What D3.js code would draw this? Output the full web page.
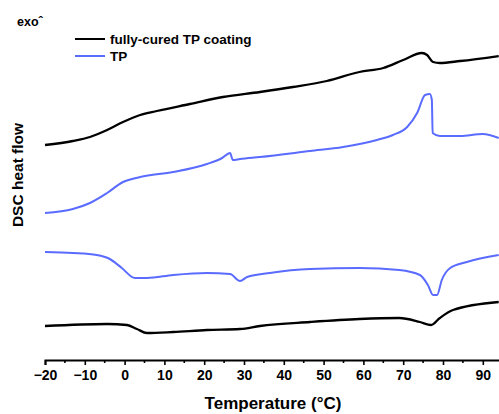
<!DOCTYPE html>
<html>
<head>
<meta charset="utf-8">
<script src="https://cdn.jsdelivr.net/npm/d3@7"></script>
<style>
  body { margin: 0; background: #fff; }
  svg { display: block; font-family: "Liberation Sans", Arial, sans-serif; }
</style>
</head>
<body>
<div id="chart"></div>
<script>
// data (heat flow in arbitrary units, curves already offset)
const curedHeatT = [-20, -13, -8.7, -4.4, -0.4, 3.9, 8.1, 16.4, 24.7, 34, 42.3, 50.8, 59, 65, 70, 74.7, 76, 77.5, 79.2, 84.3, 94];
const curedHeatV = [21.5, 21.9, 22.3, 23.0, 23.8, 24.5, 24.9, 25.6, 26.3, 26.8, 27.3, 27.9, 28.8, 29.2, 30.0, 30.7, 30.5, 29.8, 29.7, 29.9, 30.4];

const tpHeatT = [-20, -13, -8.7, -4.4, -0.4, 3.9, 12.2, 20.7, 24.5, 26.5, 27.2, 29, 34, 46.6, 54.9, 63.4, 67.4, 71, 73.5, 75.5, 76.7, 77.2, 77.4, 79.2, 84.3, 90, 94];
const tpHeatV = [14.7, 15.1, 15.7, 16.7, 17.8, 18.3, 18.8, 19.6, 20.2, 20.7, 20.0, 20.1, 20.3, 20.9, 21.3, 22.0, 22.5, 23.3, 24.7, 26.5, 26.6, 26.0, 22.7, 22.4, 22.4, 22.6, 22.2];

const tpCoolT = [-20, -13, -7, -3.7, -0.7, 2.6, 5.6, 12.2, 20.7, 26.5, 29, 30.8, 36.5, 46.6, 59, 69, 74.2, 76.2, 77.5, 78.5, 79.7, 81.8, 86, 94];
const tpCoolV = [10.8, 10.7, 10.5, 10.1, 9.2, 8.2, 8.2, 8.5, 8.7, 8.6, 7.9, 8.3, 8.7, 9.1, 9.2, 9.0, 8.5, 7.5, 6.5, 6.5, 8.0, 9.2, 9.8, 10.5];

const curedCoolT = [-20, -4.4, 0.6, 3.1, 5.6, 12.2, 20.7, 29, 34, 46.6, 59, 69, 74.2, 77, 79.2, 82.5, 94];
const curedCoolV = [3.4, 3.6, 3.5, 3.1, 2.7, 2.8, 3.0, 3.1, 3.4, 3.8, 4.1, 4.2, 3.8, 3.5, 4.2, 5.0, 5.8];

const xTicks = d3.range(-20, 91, 10);
const xMinor = d3.range(-15, 96, 10);
const legendNames = ["fully-cured TP coating", "TP"];
const colors = ["#000000", "#5a6bff"];

const W = 499, H = 414;
const svg = d3.select("#chart").append("svg").attr("width", W).attr("height", H);

const x = d3.scaleLinear().domain([-20, 100]).range([45, 45 + 120 * 3.98]);
const y = d3.scaleLinear().domain([0, 36]).range([360, 0]);

const zip = (ts, vs) => ts.map((t, i) => [t, vs[i]]);
const line = d3.line().x(d => x(d[0])).y(d => y(d[1])).curve(d3.curveMonotoneX);

const series = [
  { pts: zip(curedHeatT, curedHeatV), color: colors[0] },
  { pts: zip(tpHeatT, tpHeatV), color: colors[1] },
  { pts: zip(tpCoolT, tpCoolV), color: colors[1] },
  { pts: zip(curedCoolT, curedCoolV), color: colors[0] }
];

svg.selectAll("path.curve")
  .data(series)
  .join("path")
  .attr("class", "curve")
  .attr("d", d => line(d.pts))
  .attr("fill", "none")
  .attr("stroke", d => d.color)
  .attr("stroke-width", d => d.color === colors[0] ? 2.3 : 2)
  .attr("stroke-linejoin", "round");

// x axis
const axis = svg.append("g").attr("transform", "translate(0,360)");
axis.call(d3.axisBottom(x).tickValues(xTicks).tickSize(5).tickPadding(5).tickFormat(d3.format("d")));
axis.select(".domain").attr("stroke-width", 2);
axis.selectAll(".tick line").attr("stroke-width", 1.6);
axis.selectAll(".tick text")
  .attr("font-size", 14).attr("font-weight", "bold")
  .attr("font-family", "Liberation Sans, Arial, sans-serif");
const minor = svg.append("g").attr("transform", "translate(0,360)");
minor.selectAll("line").data(xMinor).join("line")
  .attr("x1", d => x(d)).attr("x2", d => x(d))
  .attr("y1", 0).attr("y2", 3)
  .attr("stroke", "#000").attr("stroke-width", 1.6);

svg.append("text")
  .attr("x", 273).attr("y", 409)
  .attr("text-anchor", "middle")
  .attr("font-size", 17).attr("font-weight", "bold")
  .text("Temperature (°C)");

svg.append("text")
  .attr("transform", "translate(23,175) rotate(-90)")
  .attr("text-anchor", "middle")
  .attr("font-size", 15.5).attr("font-weight", "bold")
  .text("DSC heat flow");

svg.append("text")
  .attr("x", 17).attr("y", 26)
  .attr("font-size", 12.5).attr("font-weight", "bold")
  .text("exoˆ");

// legend
const lg = svg.append("g").attr("transform", "translate(75,39)");
legendNames.forEach((name, i) => {
  const g = lg.append("g").attr("transform", `translate(0,${i * 17})`);
  g.append("line").attr("x1", 0).attr("x2", 30).attr("y1", 0).attr("y2", 0)
    .attr("stroke", colors[i]).attr("stroke-width", 2);
  g.append("text").attr("x", 35).attr("y", 5)
    .attr("font-size", 13.5).attr("font-weight", "bold")
    .text(name);
});
</script>
</body>
</html>
